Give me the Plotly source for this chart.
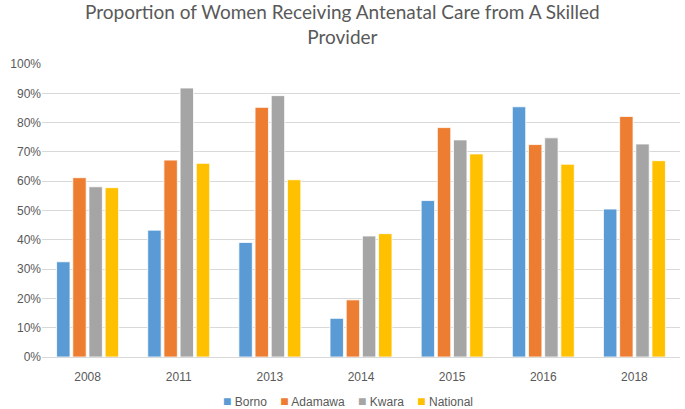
import plotly.graph_objects as go

years = ["2008", "2011", "2013", "2014", "2015", "2016", "2018"]
borno = [32.5, 43.3, 39.1, 13.2, 53.4, 85.4, 50.5]
adamawa = [61.2, 67.2, 85.2, 19.5, 78.3, 72.5, 82.1]
kwara = [58.1, 91.8, 89.2, 41.3, 74.1, 74.8, 72.7]
national = [57.8, 66.1, 60.5, 42.1, 69.3, 65.8, 67.0]

names = ["Borno", "Adamawa", "Kwara", "National"]
colors = ["#5B9BD5", "#ED7D31", "#A5A5A5", "#FFC000"]
values = [borno, adamawa, kwara, national]

title_text = "Proportion of Women Receiving Antenatal Care from A Skilled<br>Provider"

fig = go.Figure()
for name, vals, color in zip(names, values, colors):
    fig.add_trace(go.Bar(
        x=years, y=vals, name=name,
        marker=dict(color=color, line=dict(color="white", width=0.8)),
    ))

legend_text = "&nbsp;&nbsp;&nbsp;&nbsp;".join(
    f'<span style="color:{c};font-size:14px">■</span> {n}' for n, c in zip(names, colors)
)

fig.update_layout(
    width=685, height=409,
    margin=dict(l=42, r=5, t=64, b=52),
    paper_bgcolor="white", plot_bgcolor="white",
    font=dict(family="Liberation Sans, Arial, sans-serif", color="#595959", size=12),
    showlegend=False,
    barmode="group", bargap=0.29, bargroupgap=0.17,
    xaxis=dict(showgrid=False, showline=True, linecolor="#d9d9d9", linewidth=1,
               ticks="", automargin=False, ticklabelstandoff=9,
               tickfont=dict(size=12, color="#595959")),
    yaxis=dict(range=[0, 100], dtick=10, ticksuffix="%", showgrid=True,
               gridcolor="#d9d9d9", gridwidth=1, zeroline=False, showline=False,
               automargin=False, ticks="",
               tickfont=dict(size=12, color="#595959")),
    annotations=[
        dict(text=title_text, xref="paper", yref="paper", x=(342 - 42) / 638,
             y=(357 + 2) / 293, xanchor="center", yanchor="top", showarrow=False,
             font=dict(family="Lato, sans-serif", size=19, color="#595959")),
        dict(text=legend_text, xref="paper", yref="paper", x=(348 - 42) / 638,
             y=(357 - 401) / 293, xanchor="center", yanchor="middle", showarrow=False,
             font=dict(size=12, color="#595959")),
    ],
)

fig.write_html("out.html", config={"displayModeBar": False},
               post_script="document.body.style.margin='0';")
